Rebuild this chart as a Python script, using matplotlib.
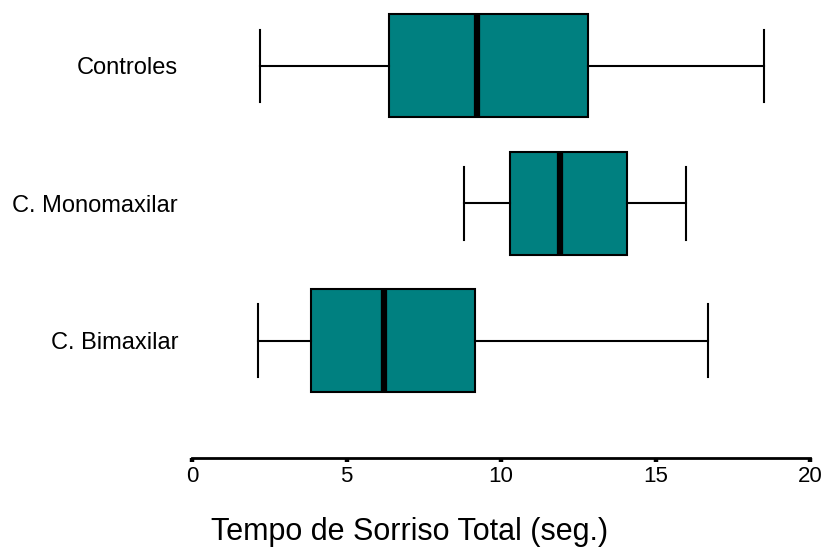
import matplotlib.pyplot as plt

# Data
groups = ['Controles', 'C. Monomaxilar', 'C. Bimaxilar']
whis_lo = [2.2, 8.8, 2.15]
q1 = [6.38, 10.29, 3.85]
median = [9.22, 11.9, 6.21]
q3 = [12.8, 14.08, 9.16]
whis_hi = [18.5, 16.0, 16.7]
positions = [3, 2, 1]
xticks = [0, 5, 10, 15, 20]

plt.rcParams['font.family'] = ['Liberation Sans', 'DejaVu Sans']

fig = plt.figure(figsize=(8.26, 5.48), dpi=100)
ax = fig.add_axes([192 / 826, 90 / 548, 618 / 826, 458 / 548])

stats = []
for i, g in enumerate(groups):
    stats.append({'label': g, 'whislo': whis_lo[i], 'q1': q1[i], 'med': median[i],
                  'q3': q3[i], 'whishi': whis_hi[i], 'fliers': []})

ax.bxp(stats, positions=positions, vert=False, widths=0.75, capwidths=0.53,
       patch_artist=True, showfliers=False,
       boxprops=dict(facecolor='#008080', edgecolor='black', linewidth=1.5),
       medianprops=dict(color='black', linewidth=4.5, solid_capstyle='butt'),
       whiskerprops=dict(color='black', linewidth=1.5),
       capprops=dict(color='black', linewidth=1.5))

ax.set_xlim(0, 20)
ax.set_ylim(0.145, 3.48)
ax.set_xticks(xticks)
ax.set_xticklabels([str(t) for t in xticks], fontsize=16)
ax.set_yticks(positions)
ax.set_yticklabels(groups, fontsize=17)
ax.tick_params(axis='y', length=0, pad=10)
ax.tick_params(axis='x', length=3, width=3.2, pad=2.5, direction='out')

for s in ['top', 'right', 'left']:
    ax.spines[s].set_visible(False)
ax.spines['bottom'].set_linewidth(2)

fig.text(410 / 826, 8 / 548, 'Tempo de Sorriso Total (seg.)', fontsize=22,
         ha='center', va='baseline')

fig.savefig('out.png', dpi=100)
